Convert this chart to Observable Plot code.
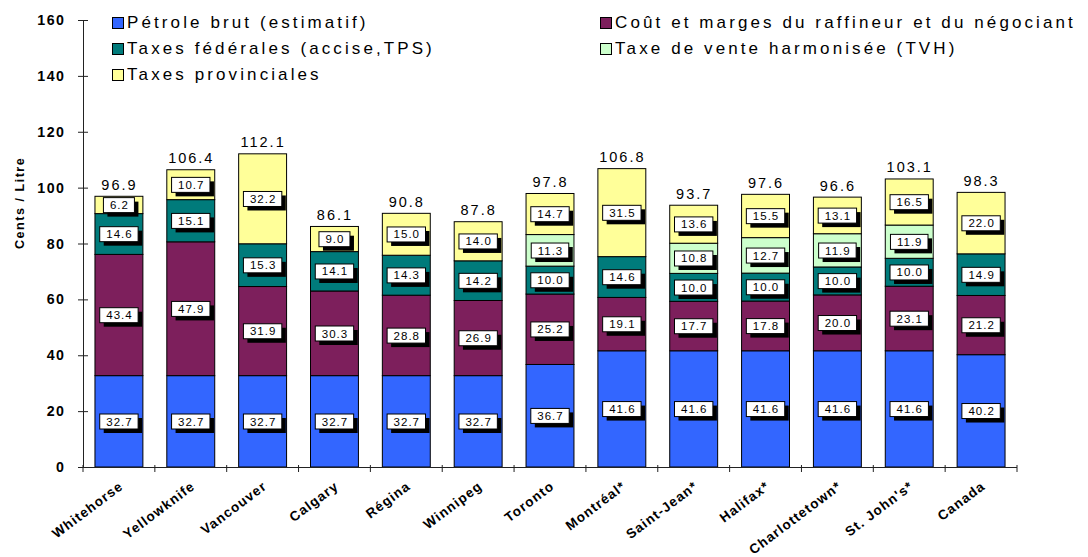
<!DOCTYPE html>
<html><head><meta charset="utf-8">
<script src="https://cdn.jsdelivr.net/npm/d3@7"></script>
<script src="https://cdn.jsdelivr.net/npm/@observablehq/plot@0.6"></script>
<style>
body{margin:0;background:#fff;font-family:"Liberation Sans",Arial,sans-serif;}
#wrap{position:relative;width:1088px;height:557px;}
#legend{position:absolute;left:112px;top:10px;display:grid;grid-template-columns:488px auto;grid-auto-rows:26px;}
.item{display:flex;align-items:center;font-size:17px;letter-spacing:3.1px;white-space:nowrap;color:#000;}
.sw{width:10px;height:10px;border:1px solid #000;margin-right:3px;flex:none;}
</style></head><body><div id="wrap"><div id="legend"></div></div>
<script>
const cities = ["Whitehorse","Yellowknife","Vancouver","Calgary","Régina","Winnipeg","Toronto","Montréal*","Saint-Jean*","Halifax*","Charlottetown*","St. John's*","Canada"];
const petrole      = [32.7,32.7,32.7,32.7,32.7,32.7,36.7,41.6,41.6,41.6,41.6,41.6,40.2];
const marges       = [43.4,47.9,31.9,30.3,28.8,26.9,25.2,19.1,17.7,17.8,20.0,23.1,21.2];
const federales    = [14.6,15.1,15.3,14.1,14.3,14.2,10.0,14.6,10.0,10.0,10.0,10.0,14.9];
const tvh          = [0,0,0,0,0,0,11.3,0,10.8,12.7,11.9,11.9,0];
const provinciales = [6.2,10.7,32.2,9.0,15.0,14.0,14.7,31.5,13.6,15.5,13.1,16.5,22.0];
const totals = ["96.9","106.4","112.1","86.1","90.8","87.8","97.8","106.8","93.7","97.6","96.6","103.1","98.3"];
const seriesNames = ["Pétrole brut (estimatif)","Coût et marges du raffineur et du négociant","Taxes fédérales (accise,TPS)","Taxe de vente harmonisée (TVH)","Taxes provinciales"];
const seriesColors = ["#3366FF","#7D1F5C","#007B7B","#CCFFCC","#FFFF99"];
const yTicks = [0,20,40,60,80,100,120,140,160];
const yTitle = "Cents / Litre";

const seriesValues = [petrole, marges, federales, tvh, provinciales];
const data = [];
cities.forEach((c,i)=>seriesValues.forEach((arr,s)=>{ if(arr[i]>0) data.push({city:c, series:seriesNames[s], value:arr[i]}); }));
const totalData = cities.map((c,i)=>({city:c, total:+totals[i], label:totals[i]}));

const padIn = 0.333;
// category boundary ticks on the x axis, placed from the band scale
function boundaryTicks(index, scales) {
  const x = scales.x, y = scales.y;
  const step = x(cities[1]) - x(cities[0]);
  const g = d3.create("svg:g").attr("stroke","#222").attr("stroke-width",1);
  const y0 = y(0);
  const xs = cities.map(c => x(c) - step*padIn/2);
  xs.push(x(cities[cities.length-1]) + step - step*padIn/2);
  xs.forEach(v => g.append("line").attr("x1",v).attr("x2",v).attr("y1",y0-2).attr("y2",y0+5));
  return g.node();
}

const plot = Plot.plot({
  width:1088, height:557, marginLeft:83, marginRight:71, marginTop:20, marginBottom:90,
  style:{fontFamily:"'Liberation Sans', Arial, sans-serif", background:"white", color:"#000"},
  x:{domain:cities, paddingInner:padIn, paddingOuter:padIn/2, round:false, label:null, axis:null},
  y:{domain:[0,160], label:null},
  color:{domain:seriesNames, range:seriesColors},
  marks:[
    Plot.barY(data, Plot.stackY({x:"city", y:"value", fill:"series", stroke:"#000", strokeWidth:1})),
    Plot.frame({anchor:"left", stroke:"#222"}),
    Plot.ruleY([0], {stroke:"#222"}),
    boundaryTicks,
    Plot.axisY(yTicks, {tickSize:10, dx:5, tickPadding:13, fontWeight:"bold", fontSize:14.2, label:null, stroke:"#222"}),
    Plot.text(cities, {x:d=>d, text:d=>d, frameAnchor:"bottom", rotate:-37, textAnchor:"end", lineAnchor:"middle", dx:2, dy:17, fontWeight:"bold", fontSize:13.5}),
    Plot.text([yTitle], {frameAnchor:"left", rotate:-90, dx:-64, dy:5, fontWeight:"bold", fontSize:12.6, text:d=>d}),
    Plot.text(data, Plot.stackY({x:"city", y:"value", z:"series", text:d=>d.value.toFixed(1), fontSize:11.5, fill:"#000"})),
    Plot.text(totalData, {x:"city", y:"total", text:"label", lineAnchor:"bottom", dy:-7, fontSize:14.5, fill:"#000"})
  ]
});
document.getElementById("wrap").prepend(plot);
const legend = document.getElementById("legend");
legend.style.zIndex = 2;
seriesNames.forEach((n,i)=>{
  const it = document.createElement("div"); it.className="item";
  const sw = document.createElement("span"); sw.className="sw"; sw.style.background=seriesColors[i];
  it.appendChild(sw); it.appendChild(document.createTextNode(n)); legend.appendChild(it);
});
const svg = d3.select(plot);
const spacing = {"11.5":"1px","14.5":"2px","14.2":"1.5px","13.5":"1.1px","12.6":"1.5px"};
svg.selectAll("g[font-size]").each(function(){
  const ls = spacing[this.getAttribute("font-size")];
  if (ls) this.setAttribute("letter-spacing", ls);
});
// white label boxes with black drop shadow behind the segment values
const ns = "http://www.w3.org/2000/svg";
svg.selectAll('g[font-size="11.5"] text').each(function(){
  const b = this.getBBox(), p = this.parentNode, t = this.getAttribute("transform");
  const w = b.width + 12, h = 15;
  const cx = b.x + b.width/2 - 0.5, cy = b.y + b.height/2;
  const mk = (o, fill, stroke) => {
    const r = document.createElementNS(ns, "rect");
    r.setAttribute("x", cx - w/2 + o); r.setAttribute("y", cy - h/2 + o);
    r.setAttribute("width", w); r.setAttribute("height", h);
    r.setAttribute("fill", fill); if (stroke) r.setAttribute("stroke", stroke);
    if (t) r.setAttribute("transform", t);
    p.insertBefore(r, this);
  };
  mk(4, "#000", null); mk(0, "#fff", "#000");
});
</script></body></html>
